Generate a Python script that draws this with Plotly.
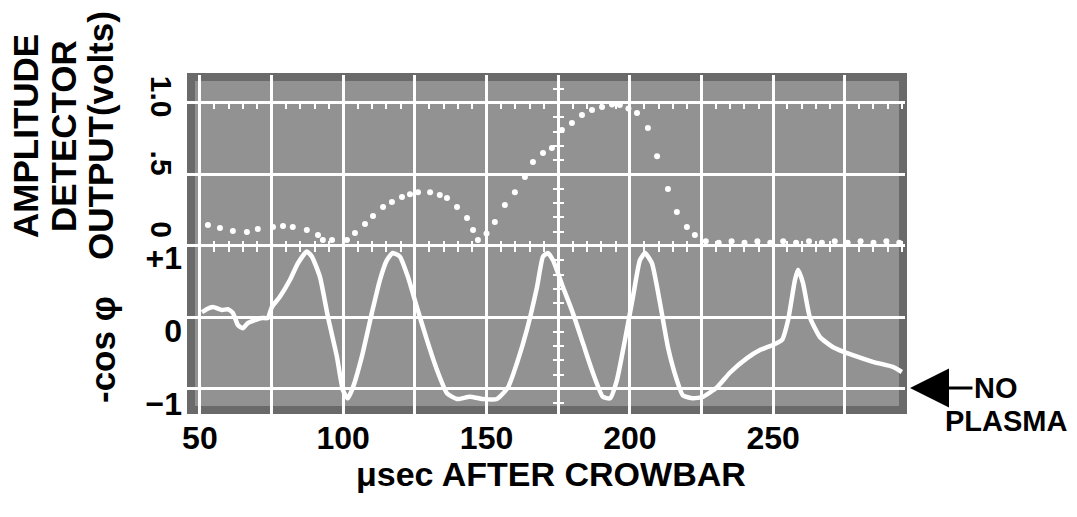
import plotly.graph_objects as go

# ---------------- data ----------------
# Amplitude detector output (volts), dotted trace
amp_t = [52.8, 57.0, 61.5, 66.4, 70.2, 75.5, 79.0, 82.4, 87.3, 91.2, 92.9, 96.1,
         101.3, 104.1, 107.6, 110.4, 113.9, 117.0, 120.5, 123.3, 126.1, 130.3,
         133.7, 136.2, 139.7, 143.2, 145.3, 147.0, 150.0, 152.9, 156.4, 159.9,
         163.4, 166.2, 169.7, 172.8, 176.3, 179.8, 183.3, 186.8, 190.3, 193.8,
         196.5, 199.5, 202.5, 206.3, 209.5, 213.3, 216.4, 219.9, 222.7, 226.5,
         231.0, 235.5, 240.0, 244.5, 249.0, 253.5, 258.0, 262.5, 267.0, 271.5,
         276.0, 280.5, 285.0, 289.5, 294.0]
amp_v = [0.083, 0.06, 0.038, 0.03, 0.053, 0.068, 0.075, 0.068, 0.045, 0.008, -0.03, -0.03,
         -0.03, 0.023, 0.09, 0.15, 0.218, 0.256, 0.293, 0.315, 0.33, 0.33,
         0.308, 0.286, 0.218, 0.135, 0.045, -0.03, 0.02, 0.105, 0.233, 0.33,
         0.444, 0.556, 0.624, 0.662, 0.797, 0.85, 0.91, 0.947, 0.97, 0.99,
         0.985, 0.96, 0.925, 0.812, 0.60, 0.353, 0.18, 0.068, 0.008, -0.04,
         -0.05, -0.04, -0.05, -0.04, -0.05, -0.04, -0.05, -0.04, -0.05, -0.04,
         -0.05, -0.04, -0.05, -0.04, -0.05]

# -cos(phi), solid trace
phase_t = [50.7, 52.4, 54.5, 57.7, 59.8, 61.5, 63.3, 65.0, 66.7, 69.2, 71.6, 73.7,
           75.1, 77.9, 81.4, 84.2, 87.3, 89.1, 91.9, 94.7, 97.8, 99.9, 101.6, 103.4,
           106.5, 110.0, 112.8, 115.2, 117.3, 119.8, 122.6, 125.7, 129.2, 132.7,
           136.2, 139.7, 144.2, 148.7, 153.6, 157.5, 160.6, 164.1, 167.6, 169.7,
           171.4, 173.2, 176.7, 180.1, 183.6, 187.1, 190.6, 193.1, 195.5, 198.3,
           201.1, 203.5, 205.3, 207.7, 210.5, 213.3, 216.4, 218.5, 222.0, 225.5,
           230.4, 234.9, 240.9, 245.4, 249.9, 253.1, 255.2, 257.6, 258.7, 260.4,
           262.8, 266.3, 270.9, 277.8, 284.8, 291.8, 294.9]
neg_cos_phi = [0.19, 0.23, 0.26, 0.22, 0.23, 0.18, 0.01, -0.03, 0.04, 0.08, 0.11, 0.11,
               0.26, 0.40, 0.63, 0.86, 1.02, 0.95, 0.67, 0.12, -0.42, -0.88, -0.99, -0.84,
               -0.42, 0.18, 0.63, 0.90, 1.00, 0.95, 0.67, 0.26, -0.19, -0.60,
               -0.92, -1.0, -0.97, -1.0, -1.0, -0.84, -0.51, -0.05, 0.53, 0.95,
               1.0, 0.90, 0.53, 0.18, -0.23, -0.64, -0.97, -0.99, -0.74, -0.19,
               0.40, 0.90, 1.0, 0.86, 0.32, -0.29, -0.74, -0.95, -0.99, -0.97,
               -0.84, -0.64, -0.44, -0.33, -0.26, -0.19, 0.08, 0.63, 0.77, 0.59,
               0.12, -0.15, -0.29, -0.40, -0.49, -0.56, -0.63]

x_tick_vals = [50, 100, 150, 200, 250]
x_tick_text = ["50", "100", "150", "200", "250"]
amp_tick_vals = [0, 0.5, 1.0]
amp_tick_text = ["0", ".5", "1.0"]
phase_tick_vals = [-1, 0, 1]
phase_tick_text = ["\u22121", "0", "+1"]

# ---------------- layout geometry ----------------
W, H = 1077, 517
L, R, T, B = 187, 172, 75, 103
PW, PH = W - L - R, H - T - B

def px(x):
    return (x - L) / PW

def py(y):
    return (H - B - y) / PH

X_RANGE = [45.5, 296.0]
Y_PHASE_RANGE = [-1.205, 3.438]
Y_AMP_RANGE = [-1.338, 1.211]
GRID_RANGE = [-0.35, 4.39]          # graticule divisions

def gpos(d):
    return (d - GRID_RANGE[0]) / (GRID_RANGE[1] - GRID_RANGE[0])

FONT = "Liberation Sans"
BLACK = "black"
GRID = "white"
SCREEN = "#929292"

fig = go.Figure()
fig.add_trace(go.Scatter(
    x=phase_t, y=neg_cos_phi, mode="lines", xaxis="x", yaxis="y",
    line=dict(color="white", width=4.5, shape="spline", smoothing=0.5),
    showlegend=False, hoverinfo="skip"))
fig.add_trace(go.Scatter(
    x=amp_t, y=amp_v, mode="markers", xaxis="x", yaxis="y2",
    marker=dict(color="white", size=6, line=dict(width=0)),
    showlegend=False, hoverinfo="skip"))
# empty traces so that the graticule axes are created and drawn
for xa, ya in [("x", "y3"), ("x2", "y3"), ("x3", "y3"), ("x4", "y3"), ("x", "y4"), ("x", "y5")]:
    fig.add_trace(go.Scatter(x=[], y=[], xaxis=xa, yaxis=ya, mode="markers",
                             showlegend=False, hoverinfo="skip"))

tick_common = dict(showgrid=False, zeroline=False, showline=False,
                   showticklabels=False, ticks="outside", ticklen=5,
                   tickwidth=2, tickcolor=GRID)
CENTER_X = px(200 + (175 - 50) * 2.866)

fig.update_layout(
    width=W, height=H,
    margin=dict(l=L, r=R, t=T, b=B, autoexpand=False),
    paper_bgcolor="white", plot_bgcolor=SCREEN,
    xaxis=dict(range=X_RANGE, tickmode="array", tickvals=x_tick_vals, ticktext=x_tick_text,
               showgrid=True, gridcolor=GRID, gridwidth=3,
               minor=dict(tick0=50, dtick=25, showgrid=True, gridcolor=GRID, gridwidth=3),
               zeroline=False, showline=False, ticks="",
               tickfont=dict(family=FONT, size=32, color=BLACK, weight="bold"),
               ticklabelstandoff=2),
    yaxis=dict(range=Y_PHASE_RANGE, tickmode="array", tickvals=phase_tick_vals,
               ticktext=phase_tick_text, showgrid=False, zeroline=False, showline=False,
               ticks="", tickangle=0, ticklabelshift=5, ticklabelstandoff=4,
               tickfont=dict(family=FONT, size=32, color=BLACK, weight="bold")),
    yaxis2=dict(overlaying="y", side="left", anchor="x", range=Y_AMP_RANGE,
                tickmode="array", tickvals=amp_tick_vals, ticktext=amp_tick_text,
                showgrid=False, zeroline=False, showline=False, ticks="",
                tickangle=90, ticklabelshift=-2, ticklabelstandoff=5,
                tickfont=dict(family=FONT, size=30, color=BLACK, weight="bold")),
    yaxis3=dict(overlaying="y", side="right", anchor="x", range=GRID_RANGE,
                tick0=0, dtick=1, showgrid=True, gridcolor=GRID, gridwidth=3,
                showticklabels=False, zeroline=False, showline=False, ticks=""),
    # graticule minor ticks: top line (downward) and centre line (both ways)
    xaxis2=dict(overlaying="x", anchor="free", position=gpos(4), side="bottom",
                range=X_RANGE, tick0=50, dtick=5, **tick_common),
    xaxis3=dict(overlaying="x", anchor="free", position=gpos(2), side="bottom",
                range=X_RANGE, tick0=50, dtick=5, **tick_common),
    xaxis4=dict(overlaying="x", anchor="free", position=gpos(2), side="top",
                range=X_RANGE, tick0=50, dtick=5, **tick_common),
    yaxis4=dict(overlaying="y", anchor="free", position=CENTER_X,
                side="left", range=GRID_RANGE, tick0=0, dtick=0.2, **tick_common),
    yaxis5=dict(overlaying="y", anchor="free", position=CENTER_X,
                side="right", range=GRID_RANGE, tick0=0, dtick=0.2, **tick_common),
    shapes=[dict(type="rect", xref="x domain", yref="y domain",
                 x0=4 / PW, x1=1 - 2 / PW, y0=4 / PH, y1=1 - 2 / PH,
                 line=dict(color="#6a6a6a", width=8), layer="below")],
)

title_font = dict(family=FONT, size=35, color=BLACK, weight="bold")
for text, xc in [("AMPLITUDE", 25), ("DETECTOR", 63), ("OUTPUT(volts)", 100)]:
    fig.add_annotation(text=text, xref="paper", yref="paper", x=px(xc), y=py(136),
                       xanchor="center", yanchor="middle", textangle=-90,
                       showarrow=False, font=title_font)
fig.add_annotation(text="-cos \u03c6", xref="paper", yref="paper", x=px(102), y=py(350),
                   xanchor="center", yanchor="middle", textangle=-90,
                   showarrow=False, font=title_font)
fig.add_annotation(text="\u03bcsec AFTER CROWBAR", xref="paper", yref="paper",
                   x=px(551), y=py(474), xanchor="center", yanchor="middle",
                   showarrow=False, font=dict(family=FONT, size=34, color=BLACK, weight="bold"))
fig.add_annotation(text="NO", xref="paper", yref="paper", x=px(910), y=py(388),
                   ax=86, ay=0, showarrow=True, arrowhead=2, arrowsize=2.6,
                   arrowwidth=3, arrowcolor=BLACK,
                   font=dict(family=FONT, size=29, color=BLACK, weight="bold"))
fig.add_annotation(text="PLASMA", xref="paper", yref="paper", x=px(1006), y=py(421),
                   xanchor="center", yanchor="middle", showarrow=False,
                   font=dict(family=FONT, size=29, color=BLACK, weight="bold"))

# the page's default body margin would offset the figure; remove it
fig.write_html("out.html", config={"displayModeBar": False},
               post_script="document.body.style.margin='0px';")
